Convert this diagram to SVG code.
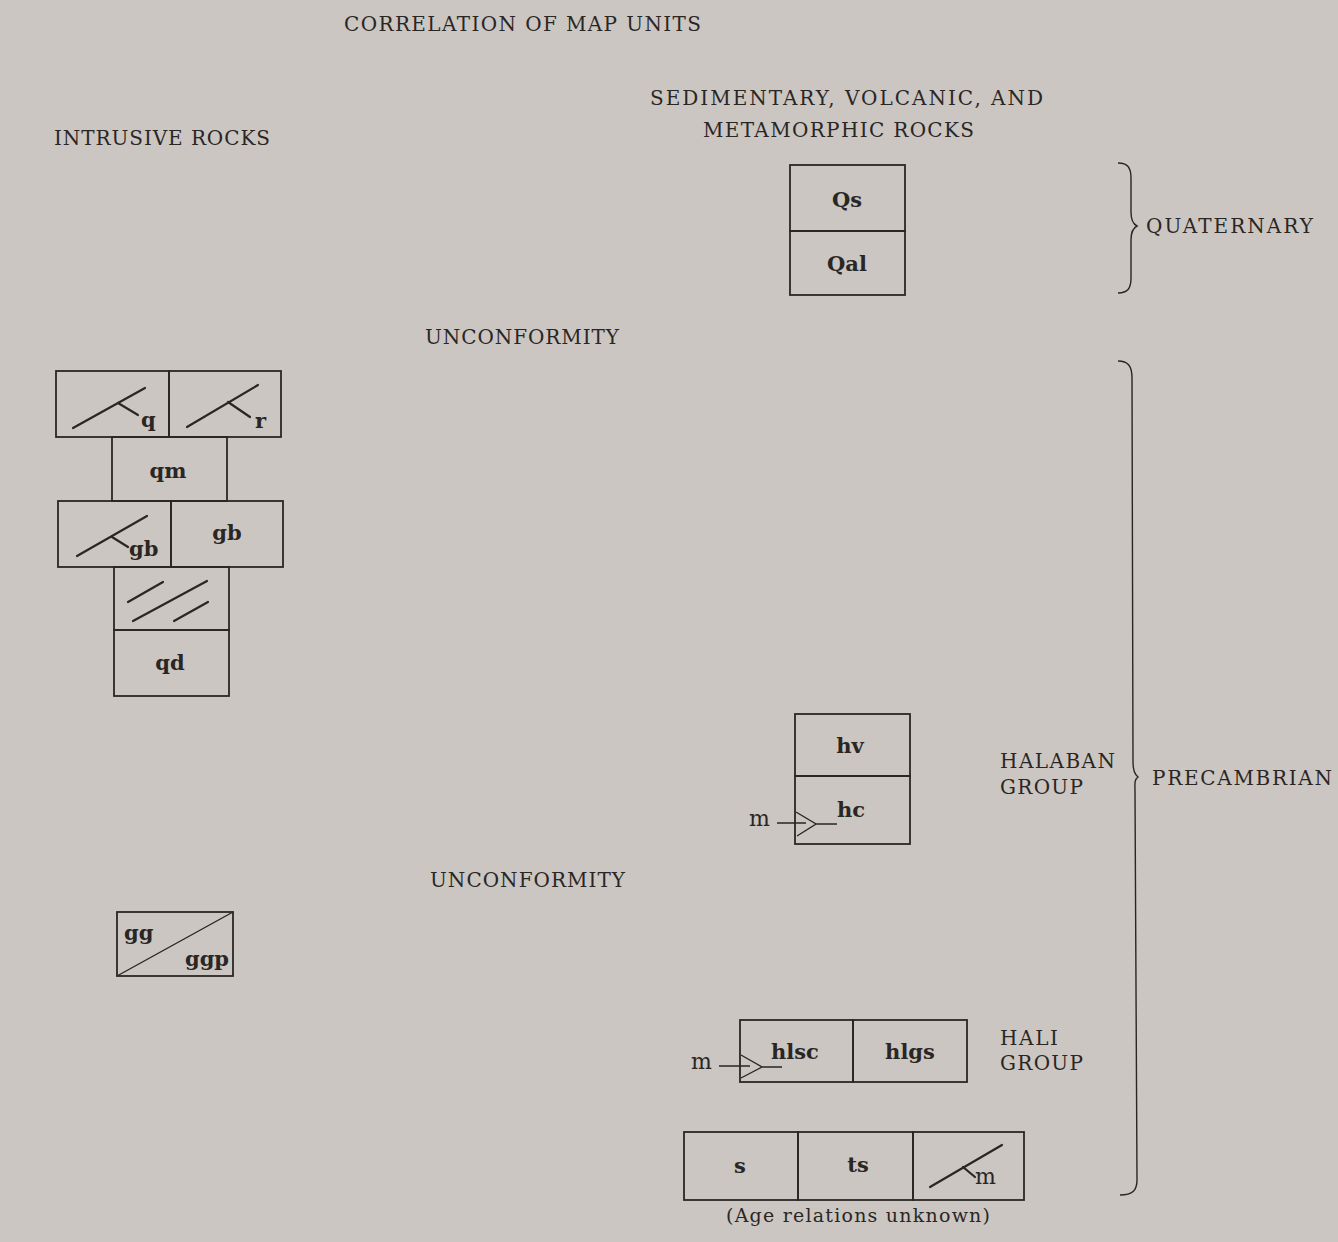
<svg xmlns="http://www.w3.org/2000/svg" width="1338" height="1242" viewBox="0 0 1338 1242">
<style>
.bg{fill:#cbc6c2}
.box{fill:none;stroke:#2a2624;stroke-width:1.8}
.ln{fill:none;stroke:#2a2624;stroke-width:2.2;stroke-linecap:round}
.th{fill:none;stroke:#2a2624;stroke-width:1.4}
.hd{font-family:"DejaVu Serif","Liberation Serif",serif;font-size:20px;fill:#2a2624}
.lb{font-family:"DejaVu Serif","Liberation Serif",serif;font-size:21px;font-weight:bold;fill:#2a2624}
.sm{font-family:"DejaVu Serif","Liberation Serif",serif;font-size:19px;fill:#2a2624}
</style>
<rect class="bg" x="0" y="0" width="1338" height="1242"/>
<g id="headings">
<text class="hd" x="344" y="31" textLength="357">CORRELATION OF MAP UNITS</text>
<text class="hd" x="54" y="145" textLength="216">INTRUSIVE ROCKS</text>
<text class="hd" x="650" y="105" textLength="393">SEDIMENTARY, VOLCANIC, AND</text>
<text class="hd" x="703" y="137" textLength="271">METAMORPHIC ROCKS</text>
<text class="hd" x="425" y="344" textLength="194">UNCONFORMITY</text>
<text class="hd" x="430" y="887" textLength="195">UNCONFORMITY</text>
<text class="hd" x="1000" y="768" textLength="115">HALABAN</text>
<text class="hd" x="1000" y="794" textLength="83">GROUP</text>
<text class="hd" x="1000" y="1045" textLength="58">HALI</text>
<text class="hd" x="1000" y="1070" textLength="83">GROUP</text>
<text class="hd" x="1146" y="233" textLength="167">QUATERNARY</text>
<text class="hd" x="1152" y="785" textLength="180">PRECAMBRIAN</text>
</g>
<g id="brace-quaternary">
<path class="th" d="M1118,163 C1128,163 1131,168 1131,178 L1131,212 C1131,220 1133,224 1137,226 C1133,228 1131,232 1131,240 L1131,278 C1131,288 1128,293 1118,293"/>
</g>
<g id="brace-precambrian">
<path class="th" d="M1118,361 C1128,361 1132,366 1132,378 L1133,762 C1133,770 1134,774 1138,777 C1134,780 1135,784 1135,792 L1137,1180 C1137,1190 1133,1195 1120,1195"/>
</g>
<g id="node-Qs">
<rect class="box" x="790" y="165" width="115" height="66"/>
<text class="lb" x="847" y="207" text-anchor="middle">Qs</text>
</g>
<g id="node-Qal">
<rect class="box" x="790" y="231" width="115" height="64"/>
<text class="lb" x="847" y="271" text-anchor="middle">Qal</text>
</g>
<g id="node-q">
<rect class="box" x="56" y="371" width="113" height="66"/>
<path class="ln" d="M73,428 L145,388 M118,403 L138,415"/>
<text class="lb" x="141" y="427">q</text>
</g>
<g id="node-r">
<rect class="box" x="169" y="371" width="112" height="66"/>
<path class="ln" d="M187,427 L258,385 M228,402 L250,417"/>
<text class="lb" x="255" y="428">r</text>
</g>
<g id="node-qm">
<rect class="box" x="112" y="437" width="115" height="64"/>
<text class="lb" x="168" y="478" text-anchor="middle">qm</text>
</g>
<g id="node-gb-dike">
<rect class="box" x="58" y="501" width="113" height="66"/>
<path class="ln" d="M77,556 L147,516 M112,537 L128,547"/>
<text class="lb" x="129" y="556">gb</text>
</g>
<g id="node-gb">
<rect class="box" x="171" y="501" width="112" height="66"/>
<text class="lb" x="227" y="540" text-anchor="middle">gb</text>
</g>
<g id="node-dikes">
<rect class="box" x="114" y="567" width="115" height="63"/>
<path class="ln" d="M128,602 L163,582 M133,621 L207,581 M174,621 L208,602"/>
</g>
<g id="node-qd">
<rect class="box" x="114" y="630" width="115" height="66"/>
<text class="lb" x="170" y="670" text-anchor="middle">qd</text>
</g>
<g id="node-gg">
<rect class="box" x="117" y="912" width="116" height="64"/>
<path class="th" d="M117,976 L233,912"/>
<text class="lb" x="124" y="940">gg</text>
<text class="lb" x="185" y="966">ggp</text>
</g>
<g id="node-hv">
<rect class="box" x="795" y="714" width="115" height="62"/>
<text class="lb" x="850" y="753" text-anchor="middle">hv</text>
</g>
<g id="node-hc">
<rect class="box" x="795" y="776" width="115" height="68"/>
<text class="lb" x="837" y="817">hc</text>
<text class="sm" x="749" y="826" style="font-size:22px">m</text>
<path class="th" d="M777,823 L806,823 M796,812 L816,824 L797,836 M816,824 L837,824"/>
</g>
<g id="node-hlsc">
<rect class="box" x="740" y="1020" width="113" height="62"/>
<text class="lb" x="771" y="1059">hlsc</text>
<text class="sm" x="691" y="1069" style="font-size:22px">m</text>
<path class="th" d="M719,1066 L750,1066 M741,1055 L762,1067 L741,1078 M762,1067 L782,1067"/>
</g>
<g id="node-hlgs">
<rect class="box" x="853" y="1020" width="114" height="62"/>
<text class="lb" x="910" y="1059" text-anchor="middle">hlgs</text>
</g>
<g id="node-s">
<rect class="box" x="684" y="1132" width="114" height="68"/>
<text class="lb" x="740" y="1173" text-anchor="middle">s</text>
</g>
<g id="node-ts">
<rect class="box" x="798" y="1132" width="115" height="68"/>
<text class="lb" x="858" y="1172" text-anchor="middle">ts</text>
</g>
<g id="node-m">
<rect class="box" x="913" y="1132" width="111" height="68"/>
<path class="ln" d="M930,1187 L1002,1145 M963,1167 L975,1177"/>
<text class="sm" x="975" y="1184" style="font-size:22px">m</text>
</g>
<g id="caption">
<text class="sm" x="858" y="1222" text-anchor="middle" textLength="264">(Age relations unknown)</text>
</g>
<g id="connectors"></g>
</svg>
